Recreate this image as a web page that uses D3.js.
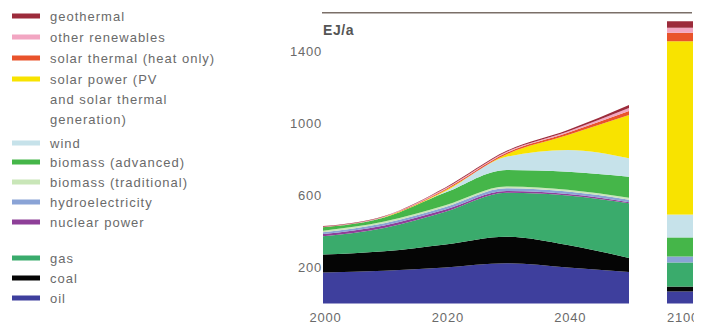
<!DOCTYPE html>
<html><head><meta charset="utf-8">
<script src="https://cdn.jsdelivr.net/npm/d3@7"></script>
<style>
html,body{margin:0;padding:0;background:#fff;}
svg text{font-family:"Liberation Sans",Arial,sans-serif;}
</style></head>
<body><svg id="c" width="714" height="326"></svg>
<script>
const years = [2000, 2010, 2020, 2030, 2040, 2050, 2100];
const oil          = [172, 182, 200, 223, 200, 175, 67];
const coal         = [100, 108, 128, 148, 125, 78, 27];
const gas          = [102, 130, 182, 244, 275, 304, 134];
const nuclear      = [12, 14, 12, 10, 8, 6, 0];
const hydro        = [10, 12, 14, 15, 14, 14, 33];
const biomassTrad  = [8, 9, 10, 10, 10, 10, 0];
const biomassAdv   = [19, 23, 70, 92, 100, 117, 106];
const wind         = [0, 1, 8, 73, 121, 103, 127];
const solarPower   = [0, 1, 5, 14, 83, 240, 963];
const solarThermal = [2, 2, 6, 8, 12, 22, 47];
const otherRen     = [2, 2, 5, 6, 8, 17, 28];
const geothermal   = [3, 2, 5, 5, 8, 17, 36];
const yTicks = [200, 600, 1000, 1400];
const xTicks = [2000, 2020, 2040];
const barYear = 2100;

const series = [
  {key:"oil", label:["oil"], values:oil, color:"#3e3f9d"},
  {key:"coal", label:["coal"], values:coal, color:"#050505"},
  {key:"gas", label:["gas"], values:gas, color:"#3aab6c"},
  {key:"nuclear", label:["nuclear power"], values:nuclear, color:"#8e3f98"},
  {key:"hydro", label:["hydroelectricity"], values:hydro, color:"#8aa3d6"},
  {key:"biomassTrad", label:["biomass (traditional)"], values:biomassTrad, color:"#c9e6b8"},
  {key:"biomassAdv", label:["biomass (advanced)"], values:biomassAdv, color:"#45b649"},
  {key:"wind", label:["wind"], values:wind, color:"#c6e2ea"},
  {key:"solarPower", label:["solar power (PV","and solar thermal","generation)"], values:solarPower, color:"#f8e300"},
  {key:"solarThermal", label:["solar thermal (heat only)"], values:solarThermal, color:"#e9532b"},
  {key:"otherRen", label:["other renewables"], values:otherRen, color:"#f2a6c2"},
  {key:"geothermal", label:["geothermal"], values:geothermal, color:"#9c2b3b"}
];

const rows = years.map((yr,i)=>{const r={year:yr}; series.forEach(s=>r[s.key]=s.values[i]); return r;});
const stack = d3.stack().keys(series.map(s=>s.key));
const stacked = stack(rows);

const svg = d3.select("#c");
const x = d3.scaleLinear().domain([2000, 2050]).range([323, 629]);
const xb = d3.scaleBand().domain([barYear]).range([667, 693]).padding(0);
const y = d3.scaleLinear().domain([0, 1400]).range([303.5, 51.5]);

const color = d3.scaleOrdinal().domain(series.map(s=>s.key)).range(series.map(s=>s.color));

// areas (2000-2050)
const area = d3.area()
  .x(d=>x(d.data.year)).y0(d=>y(d[0])).y1(d=>y(d[1]))
  .curve(d3.curveMonotoneX);
svg.append("g").selectAll("path").data(stacked).join("path")
  .attr("d", s=>area(s.filter(d=>d.data.year<=2050)))
  .attr("fill", s=>color(s.key));

// 2100 bar
svg.append("g").selectAll("rect").data(stacked).join("rect")
  .attr("x", xb(barYear)).attr("width", xb.bandwidth())
  .attr("y", s=>{const d=s.find(e=>e.data.year===barYear); return y(d[1]);})
  .attr("height", s=>{const d=s.find(e=>e.data.year===barYear); return y(d[0])-y(d[1]);})
  .attr("fill", s=>color(s.key));

// top frame line
svg.append("line").attr("x1",322).attr("x2",692).attr("y1",y(1615)).attr("y2",y(1615))
  .attr("stroke","#7b6f68").attr("stroke-width",1.6);

// unit
svg.append("text").attr("x",323).attr("y",35).text("EJ/a")
  .attr("font-size",14).attr("font-weight","bold").attr("fill","#555").attr("letter-spacing",0.6);

const tickFmt = d3.format("d");

// y axis
const ya = svg.append("g").attr("transform","translate(322,0)")
  .call(d3.axisLeft(y).tickValues(yTicks).tickFormat(tickFmt).tickSize(0).tickPadding(0));
ya.select(".domain").remove();
ya.selectAll("text").attr("font-size",13).attr("fill","#6a6a6a").attr("letter-spacing",0.8)
  .attr("font-family","'Liberation Sans',Arial,sans-serif");

// x axis
const xa = svg.append("g").attr("transform","translate(0,313)")
  .call(d3.axisBottom(x).tickValues(xTicks).tickFormat(tickFmt).tickSize(0).tickPadding(0));
xa.select(".domain").remove();
xa.selectAll("text").attr("font-size",13).attr("fill","#6a6a6a").attr("letter-spacing",0.8)
  .attr("font-family","'Liberation Sans',Arial,sans-serif").attr("dx",2);

const xa2 = svg.append("g").attr("transform","translate(0,313)");
xa2.append("clipPath").attr("id","cl").append("rect").attr("x",600).attr("y",-10).attr("width",94).attr("height",30);
const xa2in = xa2.append("g").attr("clip-path","url(#cl)")
  .call(d3.axisBottom(xb).tickFormat(tickFmt).tickSize(0).tickPadding(0));
xa2in.select(".domain").remove();
xa2in.selectAll("text").attr("font-size",13).attr("fill","#6a6a6a").attr("letter-spacing",0.8)
  .attr("font-family","'Liberation Sans',Arial,sans-serif").attr("text-anchor","start")
  .attr("x",-xb.bandwidth()/2);

// legend
const legendOrder = ["geothermal","otherRen","solarThermal","solarPower","wind","biomassAdv","biomassTrad","hydro","nuclear","gas","coal","oil"];
const legendY = {geothermal:16, otherRen:37, solarThermal:58, solarPower:79, wind:143, biomassAdv:162, biomassTrad:182, hydro:202, nuclear:222, gas:258, coal:278, oil:298};
const lg = svg.append("g");
legendOrder.forEach(k=>{
  const s = series.find(e=>e.key===k);
  const cy = legendY[k];
  lg.append("rect").attr("x",12).attr("y",cy-2.5).attr("width",28).attr("height",5).attr("fill",s.color);
  s.label.forEach((t,i)=>{
    lg.append("text").attr("x",50).attr("y",cy+4.5+i*20).text(t)
      .attr("font-size",13).attr("fill","#6a6a6a").attr("letter-spacing",1);
  });
});
</script></body></html>
